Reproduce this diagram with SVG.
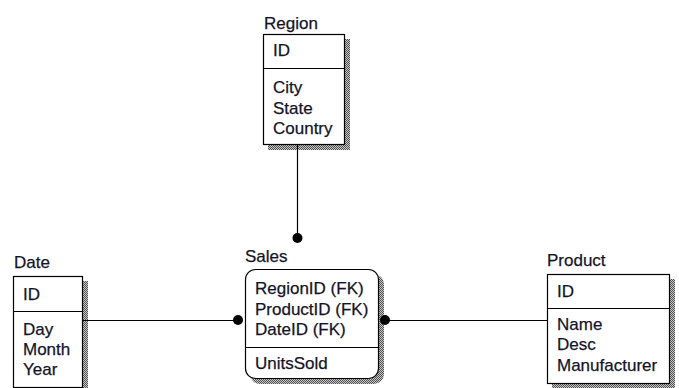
<svg xmlns="http://www.w3.org/2000/svg" width="679" height="388" viewBox="0 0 679 388">
  <defs>
    <!-- dithered drop shadow -->
    <pattern id="dither" width="2" height="2" patternUnits="userSpaceOnUse">
      <rect width="2" height="2" fill="#c8c8c8"/>
      <rect width="1" height="1" fill="#505050"/>
      <rect x="1" y="1" width="1" height="1" fill="#505050"/>
    </pattern>
  </defs>
  <style>
    text { font-family: "Liberation Sans", Arial, sans-serif; font-size: 17px; fill: #141428; stroke: #141428; stroke-width: 0.25; }
    .box { fill: #ffffff; stroke: #000000; stroke-width: 1.2; }
    .shadow { fill: url(#dither); stroke: none; }
    .sep { stroke: #000000; stroke-width: 1.2; }
    .conn { stroke: #000000; stroke-width: 1.2; fill: none; }
    .dot { fill: #000000; }
  </style>
  <rect width="679" height="388" fill="#ffffff"/>

  <!-- Region entity -->
  <g id="region">
    <text x="264" y="29">Region</text>
    <rect class="shadow" x="268" y="39" width="82" height="111"/>
    <rect class="box" x="263.5" y="34.5" width="81" height="110"/>
    <line class="sep" x1="263.5" y1="68.5" x2="344.5" y2="68.5"/>
    <text x="273" y="56">ID</text>
    <text x="273" y="93">City</text>
    <text x="273" y="114">State</text>
    <text x="273" y="134">Country</text>
  </g>

  <!-- Sales entity -->
  <g id="sales">
    <text x="245" y="262">Sales</text>
    <rect class="shadow" x="250" y="274" width="134" height="110" rx="10"/>
    <rect class="box" x="245.5" y="269.5" width="133" height="109" rx="10"/>
    <line class="sep" x1="245.5" y1="347.5" x2="378.5" y2="347.5"/>
    <text x="255" y="294">RegionID (FK)</text>
    <text x="255" y="315">ProductID (FK)</text>
    <text x="255" y="335">DateID (FK)</text>
    <text x="255" y="369">UnitsSold</text>
  </g>

  <!-- Date entity -->
  <g id="date">
    <text x="14" y="268">Date</text>
    <rect class="shadow" x="18" y="281" width="70" height="112"/>
    <rect class="box" x="13.5" y="276.5" width="69" height="111"/>
    <line class="sep" x1="13.5" y1="311.5" x2="82.5" y2="311.5"/>
    <text x="23" y="300">ID</text>
    <text x="23" y="335">Day</text>
    <text x="23" y="355">Month</text>
    <text x="23" y="375">Year</text>
  </g>

  <!-- Product entity -->
  <g id="product">
    <text x="547" y="266">Product</text>
    <rect class="shadow" x="552" y="279" width="123" height="110"/>
    <rect class="box" x="547.5" y="274.5" width="122" height="109"/>
    <line class="sep" x1="547.5" y1="308.5" x2="669.5" y2="308.5"/>
    <text x="557" y="297">ID</text>
    <text x="557" y="330">Name</text>
    <text x="557" y="350">Desc</text>
    <text x="557" y="371">Manufacturer</text>
  </g>

  <!-- relationships -->
  <g id="connectors">
    <line class="conn" x1="297.5" y1="145" x2="297.5" y2="238"/>
    <circle class="dot" cx="297.5" cy="238" r="5"/>
    <line class="conn" x1="83" y1="320.5" x2="238" y2="320.5"/>
    <circle class="dot" cx="238" cy="320" r="5"/>
    <line class="conn" x1="385" y1="320.5" x2="547" y2="320.5"/>
    <circle class="dot" cx="385" cy="320" r="5"/>
  </g>
</svg>
